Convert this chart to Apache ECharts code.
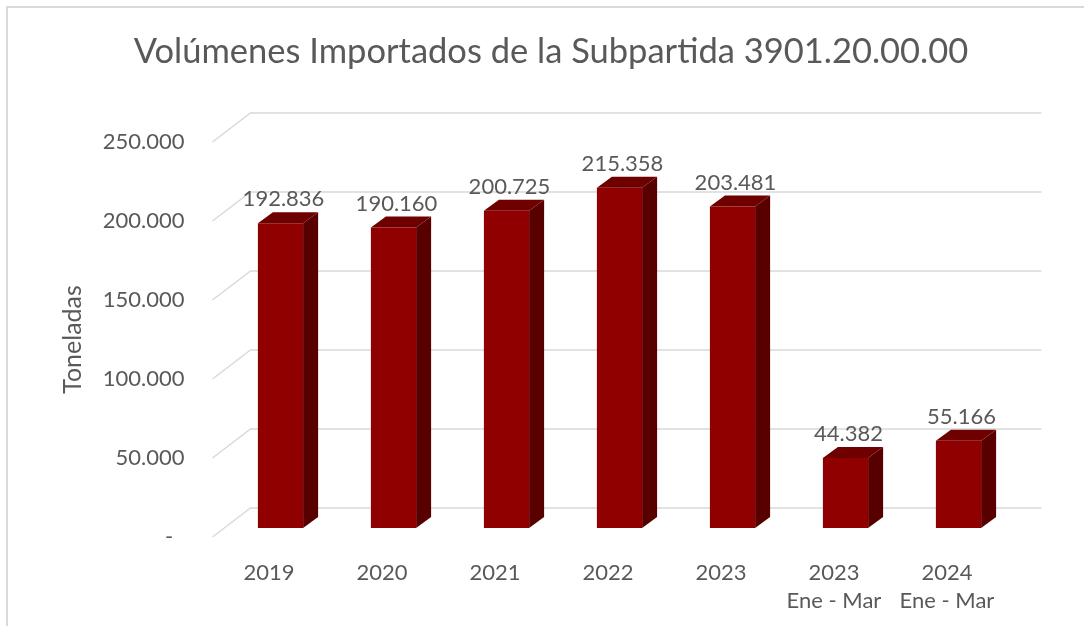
<!DOCTYPE html>
<html>
<head>
<meta charset="utf-8">
<script src="https://cdn.jsdelivr.net/npm/echarts@6/dist/echarts.min.js"></script>
<style>
  html, body { margin: 0; padding: 0; background: #fff; }
  #chart { width: 1084px; height: 626px; }
</style>
</head>
<body>
<div id="chart"></div>
<script>
const categories = ['2019', '2020', '2021', '2022', '2023', '2023\nEne - Mar', '2024\nEne - Mar'];
const volumes = [192836, 190160, 200725, 215358, 203481, 44382, 55166];
const yTicks = [0, 50000, 100000, 150000, 200000, 250000];

const FONT = 'Lato';
const TEXT = '#595959';
// 3d look: back wall offset from the front plane, bar offset + bar depth
const WALL_DX = 38, WALL_DY = 29;
const BAR_DX = 11.5, BAR_DY = 9;
const DEPTH_DX = 15, DEPTH_DY = 11;

const fmt = v => v === 0 ? '-  ' : String(v).replace(/\B(?=(\d{3})+(?!\d))/g, '.');

const chart = echarts.init(document.getElementById('chart'));
chart.setOption({
  animation: false,
  title: {
    text: 'Volúmenes Importados de la Subpartida 3901.20.00.00',
    left: 546,
    textAlign: 'center',
    top: 29,
    textStyle: { fontFamily: FONT, fontSize: 34.5, fontWeight: 'normal', color: TEXT }
  },
  graphic: [{
    type: 'rect',
    shape: { x: 7, y: 7, width: 1100, height: 700 },
    style: { fill: 'none', stroke: '#d9d9d9', lineWidth: 2 },
    silent: true
  }],
  grid: { left: 212.5, right: 80.5, top: 142, bottom: 89 },
  xAxis: {
    type: 'category',
    data: categories,
    axisLine: { show: false },
    axisTick: { show: false },
    axisLabel: { interval: 0, margin: 22, fontFamily: FONT, fontSize: 22, color: TEXT, lineHeight: 28 }
  },
  yAxis: {
    type: 'value',
    min: 0,
    max: 250000,
    interval: 50000,
    name: 'Toneladas',
    nameLocation: 'middle',
    nameGap: 127,
    nameTextStyle: { fontFamily: FONT, fontSize: 25, color: TEXT },
    splitLine: { show: false },
    axisLine: { show: false },
    axisTick: { show: false },
    axisLabel: { margin: 28, fontFamily: FONT, fontSize: 22, color: TEXT, formatter: fmt }
  },
  series: [
    {
      type: 'custom',
      silent: true,
      data: yTicks.map(v => [0, v]),
      renderItem: (params, api) => {
        const cs = params.coordSys;
        const y = api.coord([0, api.value(1)])[1];
        return {
          type: 'polyline',
          shape: { points: [[cs.x, y], [cs.x + WALL_DX, y - WALL_DY], [cs.x + cs.width + WALL_DX, y - WALL_DY]] },
          style: { stroke: '#d9d9d9', lineWidth: 1.5, fill: 'none' }
        };
      },
      z: 1
    },
    {
      type: 'custom',
      data: volumes.map((v, i) => [i, v]),
      renderItem: (params, api) => {
        const i = api.value(0), v = api.value(1);
        const top = api.coord([i, v]);
        const base = api.coord([i, 0]);
        const bw = api.size([1, 0])[0] * 0.4;
        const fx = top[0] + BAR_DX - bw / 2;
        const ft = top[1] - BAR_DY;
        const fb = base[1] - BAR_DY;
        return {
          type: 'group',
          children: [
            {
              type: 'polygon',
              shape: { points: [[fx + bw, ft], [fx + bw + DEPTH_DX, ft - DEPTH_DY], [fx + bw + DEPTH_DX, fb - DEPTH_DY], [fx + bw, fb]] },
              style: { fill: '#580000' }
            },
            {
              type: 'polygon',
              shape: { points: [[fx, ft], [fx + DEPTH_DX, ft - DEPTH_DY], [fx + bw + DEPTH_DX, ft - DEPTH_DY], [fx + bw, ft]] },
              style: { fill: '#6e0000' }
            },
            {
              type: 'rect',
              shape: { x: fx, y: ft, width: bw, height: fb - ft },
              style: { fill: '#900000' }
            },
            {
              type: 'text',
              style: {
                x: fx + bw / 2 + 3,
                y: ft - DEPTH_DY - 2,
                text: fmt(v),
                align: 'center',
                verticalAlign: 'bottom',
                fontFamily: FONT,
                fontSize: 22,
                fill: TEXT
              }
            }
          ]
        };
      },
      z: 2
    }
  ]
});
</script>
</body>
</html>
